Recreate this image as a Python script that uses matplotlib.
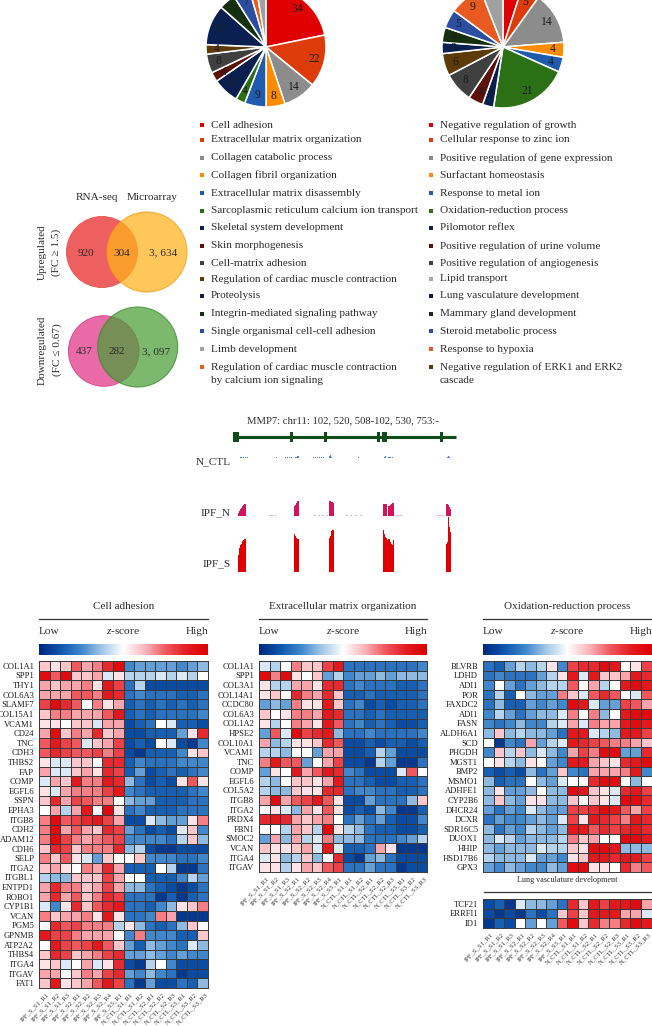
import numpy as np
import matplotlib
matplotlib.use("Agg")
import matplotlib.pyplot as plt
from matplotlib.colors import LinearSegmentedColormap
from matplotlib.patches import Circle, Rectangle

plt.rcParams['font.family'] = ['Liberation Serif', 'DejaVu Serif']
plt.rcParams['mathtext.fontset'] = 'custom'
plt.rcParams['mathtext.rm'] = 'Liberation Serif'
plt.rcParams['mathtext.it'] = 'Liberation Serif:italic'

W, H = 652, 1026
TXT = '#2b2b2b'

# pies
pie1_values = [34, 22, 14, 8, 9, 4, 11, 4, 8, 4, 17, 7, 7, 3, 4]
pie2_values = [5, 5, 14, 4, 4, 21, 3, 4, 8, 6, 3, 4, 5, 9, 6]
# slices whose number lies above the page in the reference
pie1_hidden = [13, 14]
pie2_hidden = [0, 14]
pie_colors = ['#E00000', '#DE3B0A', '#8C8C8C', '#FF8C00', '#1F5CB0', '#2C7015', '#0A1F4F', '#5C1208',
              '#404040', '#5C3A0A', '#0A2050', '#15300F', '#2A4FA0', '#E85A20', '#A0A0A0']

legend1 = ['Cell adhesion', 'Extracellular matrix organization', 'Collagen catabolic process',
           'Collagen fibril organization', 'Extracellular matrix disassembly',
           'Sarcoplasmic reticulum calcium ion transport', 'Skeletal system development',
           'Skin morphogenesis', 'Cell-matrix adhesion', 'Regulation of cardiac muscle contraction',
           'Proteolysis', 'Integrin-mediated signaling pathway', 'Single organismal cell-cell adhesion',
           'Limb development', 'Regulation of cardiac muscle contraction\nby calcium ion signaling']
legend1_colors = ['#E00000', '#DE3B0A', '#8C8C8C', '#FF8C00', '#1F5CB0', '#2C7015', '#0A1F4F', '#5C1208',
                  '#404040', '#5C3A0A', '#0A2050', '#15300F', '#2A4FA0', '#A0A0A0', '#E85A20']
legend2 = ['Negative regulation of growth', 'Cellular response to zinc ion',
           'Positive regulation of gene expression', 'Surfactant homeostasis', 'Response to metal ion',
           'Oxidation-reduction process', 'Pilomotor reflex', 'Positive regulation of urine volume',
           'Positive regulation of angiogenesis', 'Lipid transport', 'Lung vasculature development',
           'Mammary gland development', 'Steroid metabolic process', 'Response to hypoxia',
           'Negative regulation of ERK1 and ERK2\ncascade']
legend2_colors = ['#E00000', '#DE3B0A', '#8C8C8C', '#FF8C00', '#1F5CB0', '#2C7015', '#0A1F4F', '#5C1208',
                  '#404040', '#A8A8A8', '#0A2050', '#15300F', '#2A4FA0', '#E85A20', '#5C3A0A']
legend_rows = [125.3, 140, 158, 175.3, 193.3, 210.7, 228, 246, 263.3, 278.7, 296, 314, 331.3, 349.3, 367.3]

# venn counts
venn_up = ['920', '304', '3, 634']
venn_down = ['437', '282', '3, 097']

# MMP7 tracks: exons and per-pixel signal heights
exon_starts = [233, 289.5, 324, 377, 382, 440]
exon_widths = [6, 3, 3, 2.5, 4.5, 3]
ctl_x = [240, 241, 243, 245, 247, 276, 285, 287, 289, 291, 295, 296, 297, 298, 313, 315, 317, 319, 321,
         323, 329, 330, 331, 358, 384, 385, 388, 389, 390, 392, 447, 448, 449]
ctl_h = [1, 1.5, 1, 1, 0.7, 0.7, 0.7, 0.7, 0.7, 0.7, 1, 1.2, 2, 2.5, 0.7, 0.7, 0.7, 0.7, 0.7, 0.7, 2.5,
         3, 1.5, 0.7, 1.5, 2, 1.5, 1.5, 1.5, 1.5, 1, 2, 1]
ipfn_x = [238, 239, 240, 241, 242, 243, 244, 245, 294, 295, 296, 297, 298, 329, 330, 331, 332, 333,
          383, 384, 385, 386, 388, 389, 390, 391, 392, 393, 446, 447, 448, 449, 450]
ipfn_h = [3, 5, 7, 8, 10, 11, 12, 12, 10, 11, 13, 15, 15, 15, 15, 14, 14, 13, 12, 12, 12, 12, 10, 10, 11,
          12, 13, 13, 12, 12, 11, 9, 7]
ipfn_noise_x = [270, 272, 275, 315, 319, 323, 327, 347, 351, 356, 361, 398, 401, 437, 440, 443]
ipfs_x = [238, 239, 240, 241, 242, 243, 244, 245, 294, 295, 296, 297, 298, 329, 330, 331, 332, 333,
          383, 384, 385, 386, 387, 388, 389, 390, 391, 392, 393, 446, 447, 448, 449, 450]
ipfs_h = [17, 24, 27, 28, 31, 32, 33, 33, 38, 36, 34, 33, 33, 34, 36, 41, 42, 42, 42, 38, 35, 34, 32, 33,
          33, 30, 28, 27, 32, 28, 30, 55, 45, 40]
ipfs_noise_x = [247, 250, 254, 258, 262, 270, 274, 285, 288, 310, 313, 317]

samples = ['IPF_S_S1_R1', 'IPF_S_S1_R2', 'IPF_S_S1_R3', 'IPF_S_S2_R1', 'IPF_S_S2_R2', 'IPF_S_S2_R3',
           'IPF_S_S2_R4', 'IPF_S_S3_R1', 'N_CTL_S1_R1', 'N_CTL_S1_R2', 'N_CTL_S2_R1', 'N_CTL_S2_R2',
           'N_CTL_S2_R3', 'N_CTL_S3_R1', 'N_CTL_S3_R2', 'N_CTL_S3_R3']

genes1 = ['COL1A1', 'SPP1', 'THY1', 'COL6A3', 'SLAMF7', 'COL15A1', 'VCAM1', 'CD24', 'TNC', 'CDH3', 'THBS2',
          'FAP', 'COMP', 'EGFL6', 'SSPN', 'EPHA3', 'ITGB8', 'CDH2', 'ADAM12', 'CDH6', 'SELP', 'ITGA2',
          'ITGBL1', 'ENTPD1', 'ROBO1', 'CYP1B1', 'VCAN', 'PGM5', 'GPNMB', 'ATP2A2', 'THBS4', 'ITGA4',
          'ITGAV', 'FAT1']
z1 = [[2, 1, 2, 5, 3, 4, 7, 9, -5, -4, -4, -4, -4, -5, -4, -3],
      [9, 5, 9, 2, 2, 3, -1, 1, -2, -2, -2, -1, -2, -1, -2, 0],
      [3, 2, 3, 3, 4, 1, 8, 6, -6, -2, -8, -8, -8, -8, -8, -8],
      [3, 3, 3, 5, 5, 4, 8, 7, -6, -5, -6, -6, -6, -7, -7, -6],
      [6, 9, 7, 5, 0, 4, 1, 3, -7, -6, -7, -6, -7, -6, -7, -6],
      [2, 4, 4, 3, 3, 3, 5, 8, -7, -6, -7, -6, -6, -6, -6, -5],
      [1, 1, 0, 2, 2, -1, 3, 3, -8, -7, -6, 0, -1, -7, -7, -8],
      [3, 9, 2, 4, 3, 7, 2, 3, -8, -8, -7, -7, -7, -4, 1, 7],
      [5, 8, 6, 5, -1, 2, 3, 6, -8, -7, -8, 0, -1, -8, -9, -5],
      [5, 7, 6, 5, 5, 6, 4, 6, -8, -9, -7, -7, -7, -5, 1, 2],
      [1, -1, -1, 2, 2, 0, 7, 7, -7, -5, -6, -6, -6, -5, -5, -5],
      [3, -1, -1, 2, 3, 1, 7, 6, -7, -4, -8, -7, -6, -7, -6, -5],
      [-1, 3, 2, 8, 4, 4, 8, 7, -3, -6, -8, -7, -8, 1, 5, 1],
      [1, -1, 3, 4, 4, 4, 6, 8, -5, -6, -7, -7, -7, -7, -6, -5],
      [2, 7, 3, 6, 5, 4, 4, 0, -3, -4, -4, -7, -7, -7, -6, -6],
      [0, 3, -2, 3, 8, 0, 9, 1, -6, -5, -7, -7, -7, -6, -6, -6],
      [4, 9, 5, 6, 7, 8, 6, 3, -8, -8, -1, -3, -4, -4, 1, 4],
      [4, 9, 3, 5, 3, 2, 7, 6, -4, -6, -8, -7, -8, -1, 2, -5],
      [4, 9, 6, 4, 3, 4, 5, 6, -5, -5, -5, -5, -6, -2, 2, -3],
      [2, 7, 6, 2, 4, 4, 4, 7, -3, -2, -8, -9, -9, -8, -8, -8],
      [4, 2, 5, 1, -1, -4, 2, 0, 0, 2, -5, -5, -5, -6, -6, -5],
      [2, 3, 1, 0, 4, 3, 7, 3, -7, -7, -7, 0, -2, -9, -9, -6],
      [-2, -3, -3, 2, 2, 2, 6, 3, 0, 0, -7, -7, -7, -5, -2, -4],
      [3, 7, 4, 4, 2, 3, 6, 3, -3, -3, -6, -7, -8, -9, -8, -6],
      [3, 7, 3, 5, 2, 4, 7, 6, -6, -6, -6, -9, -7, -9, -7, -6],
      [-1, -5, 1, 7, 2, 5, 7, 8, -6, -6, -7, -5, -3, 1, 2, 4],
      [4, 2, 3, 3, 4, 1, 8, 1, -6, -6, -5, 4, 3, -9, -9, -9],
      [0, 7, 5, 6, 4, 4, 4, -2, 1, -3, -6, -7, -6, -3, 2, 0],
      [8, 6, 6, 4, 3, 3, 3, 0, -5, 4, -5, -5, -5, -7, -7, 2],
      [0, 8, 6, 5, 6, 8, 5, 2, -4, -7, -3, -4, -5, -6, -1, -3],
      [2, 7, 6, 2, 3, 4, 6, 7, -4, -4, -3, -4, -5, -4, -5, -5],
      [1, 2, -1, 0, 3, -1, 1, 7, -8, -9, -2, 0, -5, -8, -8, -8],
      [3, 3, 0, 2, 4, 3, 6, 7, -4, -5, -3, -5, -6, -9, -8, -8],
      [2, 8, 1, 2, 3, 5, 8, 6, -6, -9, -4, -8, -8, -6, -7, -3]]

genes2 = ['COL1A1', 'SPP1', 'COL3A1', 'COL14A1', 'CCDC80', 'COL6A3', 'COL1A2', 'HPSE2', 'COL10A1', 'VCAM1',
          'TNC', 'COMP', 'EGFL6', 'COL5A2', 'ITGB8', 'ITGA2', 'PRDX4', 'FBN1', 'SMOC2', 'VCAN', 'ITGA4', 'ITGAV']
z2 = [[-1, -2, 0, 4, 2, 2, 6, 8, -6, -6, -6, -6, -6, -6, -6, -5],
      [9, 4, 9, 1, 0, 2, -4, -2, -5, -4, -4, -3, -4, -3, -3, -3],
      [1, -2, -2, 3, 3, 1, 7, 7, -6, -5, -6, -6, -6, -7, -7, -6],
      [1, 2, 0, 7, 4, 3, 7, 2, -7, -7, -6, -7, -7, -7, -7, -6],
      [-4, -3, -4, 4, 1, 1, 8, 2, -6, -5, -8, -7, -8, -7, -7, -6],
      [2, 0, 1, 4, 4, 3, 8, 7, -6, -6, -7, -6, -7, -7, -7, -7],
      [1, -2, 0, 4, 3, 1, 8, 5, -6, -5, -7, -6, -7, -8, -8, -7],
      [-4, 5, -1, 9, 6, 7, 8, -3, -6, -6, -5, -6, -6, -6, -6, -5],
      [3, -3, -2, 1, 1, 2, 7, 5, -8, -8, -7, -8, -7, -7, -8, -7],
      [-2, -2, -3, 0, 0, -4, 3, 3, -8, -8, -7, -2, -4, -8, -8, -8],
      [4, 8, 5, 5, -4, 0, 3, 6, -8, -8, -9, -2, -4, -9, -9, -6],
      [-4, 1, 0, 8, 3, 5, 8, 7, -5, -6, -8, -8, -8, -1, 5, 0],
      [-2, -3, 0, 2, 2, 1, 3, 8, -6, -6, -7, -8, -8, -7, -7, -6],
      [-2, -3, -3, 2, 1, 1, 7, 7, -6, -5, -5, -6, -6, -7, -7, -6],
      [3, 9, 3, 5, 6, 8, 5, 1, -8, -8, -4, -6, -6, -6, -3, 2],
      [0, 1, -1, -3, 3, 1, 5, 1, -8, -7, -8, -3, -5, -9, -9, -7],
      [7, 8, 7, 3, 2, 3, 4, 0, -6, -4, -6, -4, -7, -8, -8, -5],
      [0, 0, -2, 3, 2, -2, 9, 1, -2, -3, -6, -7, -7, -8, -8, -7],
      [-4, 3, -3, 3, -2, -1, 4, -3, -3, -3, -6, -6, -6, -5, -4, -2],
      [2, 1, 1, 2, 3, -1, 8, -1, -7, -7, -6, 3, 1, -9, -9, -9],
      [-1, 1, -3, -2, 2, -3, 0, 7, -8, -9, -4, -3, -6, -8, -8, -8],
      [1, 1, -2, 1, 3, 2, 5, 6, -6, -6, -4, -6, -6, -9, -8, -8]]

genes3 = ['BLVRB', 'LDHD', 'ADI1', 'POR', 'FAXDC2', 'ADI1', 'FASN', 'ALDH6A1', 'SCD', 'PHGDH', 'MGST1', 'BMP2',
          'MSMO1', 'ADHFE1', 'CYP2B6', 'DHCR24', 'DCXR', 'SDR16C5', 'DUOX1', 'HHIP', 'HSD17B6', 'GPX3']
z3 = [[-6, -7, -4, -2, -3, -2, 1, -5, 6, 7, 7, 9, 8, 0, 1, 6],
      [-6, -5, -6, -6, -6, -4, -2, 1, 8, -1, 8, 2, 2, 3, 8, 7],
      [-5, 0, -4, -6, -4, -3, -2, -2, 5, 0, 3, -2, 0, 8, 9, 8],
      [-6, -2, -7, 0, -3, -4, -4, 4, 2, -1, 5, 7, 5, 0, -1, 5],
      [-6, -3, -7, -7, -4, -5, -4, -5, 9, 8, -1, -4, -4, 6, 5, 3],
      [-5, -2, -4, -6, -4, -3, -3, -1, 4, 0, 4, -3, 0, 8, 9, 9],
      [-5, -6, -5, -3, -5, -5, -2, -1, 3, -1, 4, 3, 3, 8, 9, 8],
      [-3, 2, -3, -2, -3, -3, -4, -6, 8, 8, -1, -2, -3, 8, 8, 6],
      [0, -9, -5, -6, 3, -4, -2, -1, 8, 7, 6, 5, 4, 4, 3, 2],
      [-5, 2, -2, 2, -3, -1, -3, -5, 3, 6, 4, 9, 9, -4, -4, 7],
      [0, 1, -2, -3, 1, 0, -4, -5, 8, 8, 3, 2, 1, 7, 8, 9],
      [-7, -8, -7, -8, -3, -6, -4, 2, -5, -6, 3, 3, 3, 4, 8, -5],
      [-3, -7, -6, -6, 0, -3, -4, -1, 0, 0, 7, 9, 9, 0, -3, 0],
      [-3, 1, -4, -4, -3, 0, -3, -3, 9, 8, 2, 1, -1, 7, 8, 6],
      [-3, 2, -3, -4, 1, 1, -3, -3, 2, 0, 2, 1, -1, 9, 9, 7],
      [-4, -6, -4, -5, -1, -3, -4, -4, 6, 6, 7, 9, 8, 5, 3, 6],
      [-6, -4, -5, -5, -4, -3, -4, -1, 6, 1, 8, 7, 6, 4, 8, 7],
      [-3, -6, -4, -5, -2, -3, -4, -3, 8, 8, 5, 7, 6, 7, 8, 7],
      [-3, -1, -2, -4, -3, -3, -3, -2, 4, 2, 3, 0, 0, 9, 9, 8],
      [-3, -4, -3, -3, -3, -1, -2, -2, 2, 1, 9, 9, 8, -3, -3, -3],
      [-2, -3, -3, -3, -1, -4, -4, -5, 1, 2, 8, 8, 7, 8, 8, 6],
      [-4, -5, -3, -4, -5, -5, -3, -4, 9, 9, 1, 1, 0, 7, 4, 5]]

genes4 = ['TCF21', 'ERRFI1', 'ID1']
z4 = [[-8, -7, -9, -1, -3, -3, -4, -6, 7, 2, 8, 6, 8, 8, 9, 3],
      [-8, -9, -8, -9, -6, -8, -6, 2, 6, 2, 8, 8, 8, 3, 3, -1],
      [-9, -7, -8, 0, -4, 0, -4, 5, 9, 2, 7, 4, 4, 7, 9, 8]]

cmap = LinearSegmentedColormap.from_list('zscore', ['#00277F', '#0D56AD', '#3F86CC', '#A3C8E8', '#FFFFFF',
                                                    '#FBB8BE', '#F0595F', '#E31E24', '#DC0000'])

fig = plt.figure(figsize=(W / 100, H / 100), dpi=100)


def box(x0, y0, x1, y1):
    # pixel box (y from the top) to a figure axes
    return fig.add_axes([x0 / W, 1 - y1 / H, (x1 - x0) / W, (y1 - y0) / H])


bg = box(0, 0, W, H)
bg.set_xlim(0, W)
bg.set_ylim(H, 0)
bg.axis('off')


def label(x, y, s, size=8.1, ha='center', **kw):
    bg.text(x, y, s, fontsize=size, ha=ha, va='center', color=TXT, **kw)


# pies, cut by the top edge of the page
for cx, cy, r, vals, hidden in [(266, 47, 60, pie1_values, pie1_hidden), (503, 47, 61, pie2_values, pie2_hidden)]:
    ax = box(cx - r, cy - r, cx + r, cy + r)
    wedges, _, numbers = ax.pie(vals, colors=pie_colors, startangle=90, counterclock=False, radius=1,
                                wedgeprops={'edgecolor': 'white', 'linewidth': 1.1},
                                autopct='%1.1f', pctdistance=0.82,
                                textprops={'fontsize': 8.4, 'color': '#1c1c1c'})
    for i, (t, v) in enumerate(zip(numbers, vals)):
        t.set_text('' if i in hidden else str(v))
    ax.set_xlim(-1, 1)
    ax.set_ylim(-1, 1)

# pie legends
for bx, tx, names, cols in [(202, 210.7, legend1, legend1_colors), (431, 440, legend2, legend2_colors)]:
    for y, name, col in zip(legend_rows, names, cols):
        bg.add_patch(Rectangle((bx - 2, y - 2), 4, 4, color=col, lw=0))
        if '\n' in name:
            first, second = name.split('\n')
            label(tx, y, first, ha='left')
            label(tx, y + 13.4, second, ha='left')
        else:
            label(tx, y, name, ha='left')

# venn diagrams
bg.add_patch(Circle((102, 252), 35.5, facecolor='#EE6060', edgecolor='#E85050', lw=0.6))
bg.add_patch(Circle((147, 252), 40, facecolor='#FFB21A', edgecolor='#F59A10', lw=0.8, alpha=0.72))
bg.add_patch(Circle((103.7, 351), 35.3, facecolor='#E86AA6', edgecolor='#D9408A', lw=0.6))
bg.add_patch(Circle((137.7, 347), 40, facecolor='#499E37', edgecolor='#2F8A22', lw=0.8, alpha=0.72))
label(97, 198, 'RNA-seq')
label(152, 198, 'Microarray')
label(42, 252, 'Upregulated', rotation=90)
label(56, 252, '(FC ≥ 1.5)', rotation=90)
label(42, 350, 'Downregulated', rotation=90)
label(57, 350, '(FC ≤ 0.67)', rotation=90)
for x, s in zip([86, 122, 163], venn_up):
    label(x, 253, s)
for x, s in zip([84, 117, 156], venn_down):
    label(x, 352, s)

# MMP7 tracks
label(343, 421, 'MMP7: chr11: 102, 520, 508-102, 530, 753:-', size=7.7)
label(231, 462, 'N_CTL', ha='right')
label(231, 513, 'IPF_N', ha='right')
label(231, 564, 'IPF_S', ha='right')
trk = box(190, 395, 470, 585)
trk.set_xlim(190, 470)
trk.set_ylim(585, 395)
trk.axis('off')
trk.plot([233, 456], [436.7, 436.7], color='#0F4D1A', lw=2.2, solid_capstyle='butt')
trk.bar(exon_starts, [10] * 6, exon_widths, bottom=431.7, align='edge', color='#0F4D1A', lw=0)
trk.bar(ctl_x, ctl_h, 1, bottom=[458 - v for v in ctl_h], color='#3F7FD0', lw=0)
trk.bar(ipfn_x, ipfn_h, 1, bottom=[515.7 - v for v in ipfn_h], color='#D4145A', lw=0)
trk.bar(ipfn_noise_x, [0.7] * len(ipfn_noise_x), 1.5, bottom=515, color='#F3A9C4', lw=0)
trk.bar(ipfs_x, ipfs_h, 1, bottom=[572.3 - v for v in ipfs_h], color='#E00000', lw=0)
trk.bar(ipfs_noise_x, [0.7] * len(ipfs_noise_x), 1.5, bottom=571.6, color='#F5A9A0', lw=0)


def heatmap(x0, y0, x1, y1, genes, z):
    ax = box(x0, y0, x1, y1)
    ax.pcolormesh(np.array(z) / 10, cmap=cmap, vmin=-1, vmax=1, edgecolors='#3a3a3a', linewidth=0.6)
    ax.set_ylim(len(genes), 0)
    ax.set_xlim(0, 16)
    ax.set_yticks(np.arange(len(genes)) + 0.5, genes, fontsize=6.1, color='#1c1c1c')
    ax.tick_params(length=0, pad=3.5)
    for s in ax.spines.values():
        s.set_color('#3a3a3a')
        s.set_linewidth(0.7)
    return ax


def sample_ticks(ax):
    ax.set_xticks(np.arange(16) + 0.7, samples, rotation=45, ha='right', rotation_mode='anchor',
                  fontsize=4.8, color='#333333')
    ax.tick_params(axis='x', pad=3)


def header(x0, x1, title):
    mid = (x0 + x1) / 2
    label(mid, 606.7, title, size=8.0)
    bg.plot([x0, x1], [619, 619], color='#333333', lw=0.9)
    label(x0, 631, 'Low', ha='left', size=8.2)
    label(mid, 631, r'$\it{z}$-score', size=8.2)
    label(x1, 631, 'High', ha='right', size=8.2)
    cb = box(x0, 644, x1, 655)
    cb.imshow(np.linspace(-1, 1, 256)[None, :], aspect='auto', cmap=cmap, vmin=-1, vmax=1)
    cb.axis('off')


header(39, 208, 'Cell adhesion')
header(259, 427, 'Extracellular matrix organization')
header(483, 652, 'Oxidation-reduction process')

sample_ticks(heatmap(39, 661, 208, 988, genes1, z1))
ax2 = heatmap(259, 661, 427, 872, genes2, z2)
sample_ticks(ax2)
ax3 = heatmap(483, 661, 651.5, 872, genes3, z3)
ax3.set_xticks([])
label(567, 880, 'Lung vasculature development', size=5.9)
bg.plot([484, 651], [892, 892], color='#333333', lw=0.9)
sample_ticks(heatmap(483, 899, 651.5, 928, genes4, z4))

fig.savefig('out.png', dpi=100)
